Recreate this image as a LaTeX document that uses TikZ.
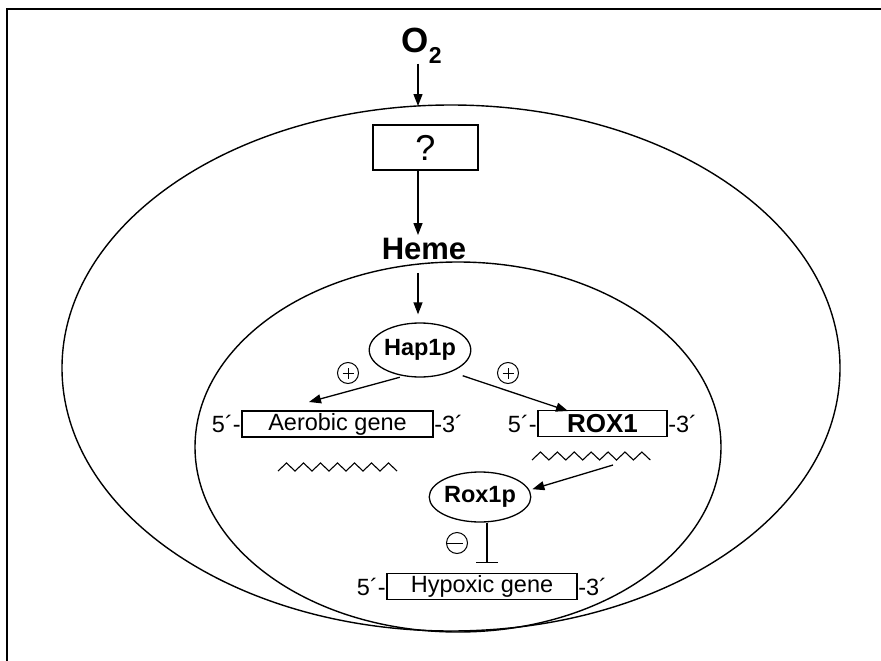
\documentclass[tikz,border=0pt]{standalone}
\usepackage{fontspec}
\setmainfont{Liberation Sans}
\usetikzlibrary{arrows.meta,shapes.geometric}
\begin{document}
\begin{tikzpicture}[x=1pt,y=-1pt,line width=1.3pt,
  arr/.style={-{Triangle[length=12pt,width=9pt]},line width=1.3pt},
  inh/.style={-{Bar[width=22pt,line width=1.3pt]},line width=1.3pt},
  gene/.style={draw,rectangle,minimum height=26pt,inner sep=0pt,font=\fontsize{23.5}{23.5}\selectfont},
  prot/.style={draw,ellipse,inner sep=0pt,font=\bfseries\fontsize{23.5}{23.5}\selectfont},
  lbl/.style={font=\fontsize{23.5}{23.5}\selectfont,inner sep=0pt},
  sign/.style={draw,circle,minimum size=21pt,inner sep=0pt,line width=1pt},
  plussign/.style={sign,path picture={\draw[line width=1pt] (path picture bounding box.center) ++(-5.5pt,0) -- ++(11pt,0) (path picture bounding box.center) ++(0,-5.5pt) -- ++(0,11pt);}},
  minussign/.style={sign,path picture={\draw[line width=1pt] (path picture bounding box.center) ++(-11pt,0) -- ++(17pt,0);}},
  membrane/.style={line width=1.4pt}
]
\useasboundingbox (0,0) rectangle (881,661);
% frame
\draw[line width=2.2pt] (7,661) -- (7,9) -- (881,9);
% cell and nucleus
\draw[membrane] (451,368) ellipse [x radius=389, y radius=263];
\draw[membrane] (458,447) ellipse [x radius=263, y radius=185];
\coordinate (axis) at (418,0);
\coordinate (celltop) at (418,106);
% nodes
\node[anchor=base west,inner sep=0pt,font=\bfseries\fontsize{35}{35}\selectfont] (o2) at (401,53) {O\raisebox{-10pt}{\fontsize{23}{23}\selectfont 2}};
\node[draw,minimum width=105pt,minimum height=45pt,inner sep=0pt,font=\fontsize{36}{36}\selectfont] (q) at (425.5,147.5) {?};
\node[anchor=base,inner sep=0pt,font=\bfseries\fontsize{31}{31}\selectfont] (heme) at (424,259) {Heme};
\node[prot,minimum width=85pt,minimum height=54pt] (hap) at (420,350) {Hap1p};
\node[gene,minimum width=191pt] (aer) at (337.5,424) {Aerobic gene};
\node[lbl,anchor=east] (aer5) at (aer.west) {5´-};
\node[lbl,anchor=west] (aer3) at (aer.east) {-3´};
\node[gene,minimum width=129pt,font=\bfseries\fontsize{26}{26}\selectfont] (rox) at (602.5,423.5) {ROX1};
\node[lbl,anchor=east] (rox5) at (rox.west) {5´-};
\node[lbl,anchor=west] (rox3) at (rox.east) {-3´};
\node[prot,minimum width=86pt,minimum height=50pt] (roxp) at (480,497) {Rox1p};
\node[gene,minimum width=190pt] (hyp) at (482,586.5) {Hypoxic gene};
\node[lbl,anchor=east] (hyp5) at (hyp.west) {5´-};
\node[lbl,anchor=west] (hyp3) at (hyp.east) {-3´};
\node[plussign] (p1) at (348,373) {};
\node[plussign] (p2) at (508,373) {};
\node[minussign] (m1) at (457,543) {};
% mRNA zigzags
\draw[line width=1.1pt] (278,471) \foreach \i in {0,...,6} { -- ++(8.5,-8) -- ++(8.5,8) };
\draw[line width=1.1pt] (532,460) \foreach \i in {0,...,6} { -- ++(8.45,-8) -- ++(8.45,8) };
\coordinate (aertip) at (309,402);
\coordinate (roxtip) at (568,411);
\coordinate (mrna) at (613,465);
\coordinate (inhib) at (487,563);
% connectors
\draw[arr] (o2.south -| axis) -- (celltop);
\draw[arr] (q.south -| axis) -- ([yshift=2pt]heme.north -| axis);
\draw[arr,shorten <=13pt,shorten >=8pt] (heme.south -| axis) -- (hap.north -| axis);
\draw[arr,shorten <=4pt] (hap.-122) -- (aertip);
\draw[arr,shorten <=12pt] (hap.-35) -- (roxtip);
\draw[arr,shorten >=3pt] (mrna) -- (roxp.8);
\draw[inh] (roxp.south -| inhib) -- (inhib);
\end{tikzpicture}
\end{document}
